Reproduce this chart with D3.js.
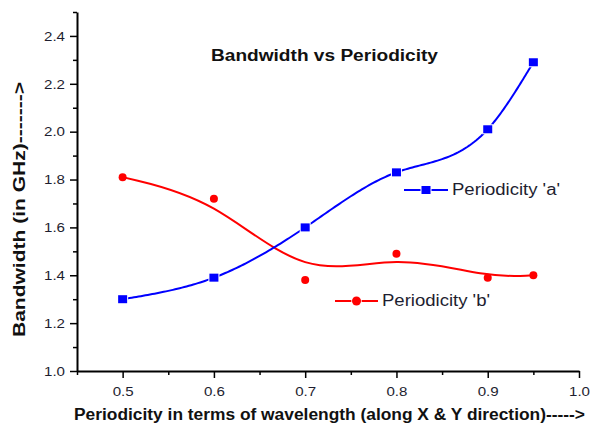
<!DOCTYPE html>
<html>
<head>
<meta charset="utf-8">
<script src="https://cdn.jsdelivr.net/npm/d3@7"></script>
<style>
  body { margin: 0; background: #fff; }
  svg { display: block; font-family: "Liberation Sans", Arial, sans-serif; }
  .axis path, .axis line { stroke: #000; }
  .axis text { fill: #1e1e30; font-size: 13.5px; }
</style>
</head>
<body>
<div class="container"></div>
<script>
// data
const periodicity = [0.5, 0.6, 0.7, 0.8, 0.9, 0.95];
const bandwidthA = [1.30, 1.39, 1.60, 1.83, 2.01, 2.29];
const bandwidthB = [1.81, 1.72, 1.38, 1.49, 1.39, 1.40];

const xMajor = [0.5, 0.6, 0.7, 0.8, 0.9, 1.0];
const xMinor = [0.45, 0.55, 0.65, 0.75, 0.85, 0.95];
const yMajor = [1.0, 1.2, 1.4, 1.6, 1.8, 2.0, 2.2, 2.4];
const yMinor = [1.1, 1.3, 1.5, 1.7, 1.9, 2.1, 2.3, 2.5];

const seriesNames = ["Periodicity 'a'", "Periodicity 'b'"];
const titleText = 'Bandwidth vs Periodicity';
const xLabel = 'Periodicity in terms of wavelength (along X & Y direction)----->';
const yLabel = 'Bandwidth (in GHz)------->';

const W = 598, H = 424;
const svg = d3.select('div.container').append('svg')
	.attr('width', W)
	.attr('height', H);

const x = d3.scaleLinear().domain([0.45, 1.0]).range([77, 579]);
const y = d3.scaleLinear().domain([1.0, 2.5]).range([371, 12]);
const fmt = d3.format('.1f');

// axes: major ticks with labels, minor ticks without
const gx = svg.append('g').attr('class', 'axis')
	.attr('transform', 'translate(0,' + y(1.0) + ')');
gx.call(d3.axisBottom(x).tickValues(xMajor).tickFormat(fmt).tickSize(7).tickSizeOuter(0).tickPadding(8));
gx.append('g').call(d3.axisBottom(x).tickValues(xMinor).tickFormat('').tickSize(4).tickSizeOuter(0))
	.select('.domain').remove();

const gy = svg.append('g').attr('class', 'axis')
	.attr('transform', 'translate(' + x(0.45) + ',0)');
gy.call(d3.axisLeft(y).tickValues(yMajor).tickFormat(fmt).tickSize(7).tickSizeOuter(0).tickPadding(5));
gy.append('g').call(d3.axisLeft(y).tickValues(yMinor).tickFormat('').tickSize(4).tickSizeOuter(0))
	.select('.domain').remove();

svg.selectAll('.axis .domain').attr('stroke-width', 2);
svg.selectAll('.axis .tick line').attr('stroke-width', 1.5);
svg.selectAll('.axis .tick text')
	.attr('textLength', 21)
	.attr('lengthAdjust', 'spacingAndGlyphs');

// natural cubic spline as a function of x (like Origin's spline connect)
const splinePath = (xs, ys, steps) => {
	const n = xs.length;
	const h = d3.range(n - 1).map(i => xs[i + 1] - xs[i]);
	const s = d3.range(n - 1).map(i => (ys[i + 1] - ys[i]) / h[i]);
	const M = new Array(n).fill(0);
	// tridiagonal solve for inner second derivatives
	const a = [], b = [], c = [], r = [];
	for (let i = 1; i < n - 1; i++) {
		a.push(h[i - 1]); b.push(2 * (h[i - 1] + h[i])); c.push(h[i]);
		r.push(6 * (s[i] - s[i - 1]));
	}
	const m = b.length;
	for (let i = 1; i < m; i++) {
		const w = a[i] / b[i - 1];
		b[i] -= w * c[i - 1];
		r[i] -= w * r[i - 1];
	}
	const sol = new Array(m);
	sol[m - 1] = r[m - 1] / b[m - 1];
	for (let i = m - 2; i >= 0; i--) sol[i] = (r[i] - c[i] * sol[i + 1]) / b[i];
	sol.forEach((v, i) => { M[i + 1] = v; });
	const out = [];
	for (let i = 0; i < n - 1; i++) {
		for (let k = 0; k <= steps; k++) {
			const t = xs[i] + h[i] * k / steps;
			const A = (xs[i + 1] - t) / h[i], B = (t - xs[i]) / h[i];
			const v = A * ys[i] + B * ys[i + 1]
				+ ((A * A * A - A) * M[i] + (B * B * B - B) * M[i + 1]) * h[i] * h[i] / 6;
			out.push([t, v]);
		}
	}
	return out;
};

const pointsA = periodicity.map((p, i) => [p, bandwidthA[i]]);
const pointsB = periodicity.map((p, i) => [p, bandwidthB[i]]);

const lineA = d3.line().x(d => x(d[0])).y(d => y(d[1]));
const lineB = d3.line().x(d => x(d[0])).y(d => y(d[1])).curve(d3.curveBasis);

svg.append('path')
	.attr('d', lineB(pointsB))
	.style('fill', 'none')
	.style('stroke', '#ff0000')
	.style('stroke-width', 2);

svg.append('path')
	.attr('d', lineA(splinePath(periodicity, bandwidthA, 40)))
	.style('fill', 'none')
	.style('stroke', '#0000ff')
	.style('stroke-width', 2);

// markers (white outline gives the small gap around each marker)
svg.selectAll('.pt-b')
	.data(pointsB)
	.enter()
	.append('circle')
	.attr('class', 'pt-b')
	.attr('cx', d => x(d[0]))
	.attr('cy', d => y(d[1]))
	.attr('r', 4)
	.style('fill', '#ff0000');

svg.selectAll('.pt-a')
	.data(pointsA)
	.enter()
	.append('rect')
	.attr('class', 'pt-a')
	.attr('x', d => x(d[0]) - 4.5)
	.attr('y', d => y(d[1]) - 4)
	.attr('width', 9)
	.attr('height', 8)
	.style('fill', '#0000ff')
	.style('stroke', '#fff')
	.style('stroke-width', 2)
	.style('paint-order', 'stroke');

// legends
const legend = [
	{ name: seriesNames[0], color: '#0000ff', shape: 'square', x0: 404, x1: 448, y: 190, tx: 452, tlen: 108, ty: 195 },
	{ name: seriesNames[1], color: '#ff0000', shape: 'circle', x0: 335, x1: 378, y: 301, tx: 382, tlen: 108, ty: 306 }
];
legend.forEach(l => {
	const g = svg.append('g');
	g.append('line')
		.attr('x1', l.x0).attr('x2', l.x1)
		.attr('y1', l.y).attr('y2', l.y)
		.style('stroke', l.color)
		.style('stroke-width', 2);
	const cx = (l.x0 + l.x1) / 2;
	if (l.shape === 'square') {
		g.append('rect')
			.attr('x', cx - 4.5).attr('y', l.y - 4)
			.attr('width', 9).attr('height', 8)
			.style('fill', l.color)
			.style('stroke', '#fff').style('stroke-width', 2).style('paint-order', 'stroke');
	} else {
		g.append('circle')
			.attr('cx', cx).attr('cy', l.y).attr('r', 4.5)
			.style('fill', l.color)
			.style('stroke', '#fff').style('stroke-width', 1.5).style('paint-order', 'stroke');
	}
	g.append('text')
		.attr('x', l.tx).attr('y', l.ty)
		.attr('textLength', l.tlen)
		.attr('lengthAdjust', 'spacingAndGlyphs')
		.style('font-size', '16px')
		.style('fill', '#1e1e30')
		.text(l.name);
});

// title and axis labels
svg.append('text')
	.attr('x', 211).attr('y', 61)
	.attr('textLength', 227)
	.attr('lengthAdjust', 'spacingAndGlyphs')
	.style('font-size', '16px')
	.style('font-weight', 'bold')
	.style('fill', '#111')
	.text(titleText);

svg.append('text')
	.attr('x', 74).attr('y', 420)
	.attr('textLength', 511)
	.attr('lengthAdjust', 'spacingAndGlyphs')
	.style('font-size', '16px')
	.style('font-weight', 'bold')
	.style('fill', '#111')
	.text(xLabel);

svg.append('text')
	.attr('transform', 'translate(25,337) rotate(-90)')
	.attr('textLength', 255)
	.attr('lengthAdjust', 'spacingAndGlyphs')
	.style('font-size', '16px')
	.style('font-weight', 'bold')
	.style('fill', '#111')
	.text(yLabel);
</script>
</body>
</html>
